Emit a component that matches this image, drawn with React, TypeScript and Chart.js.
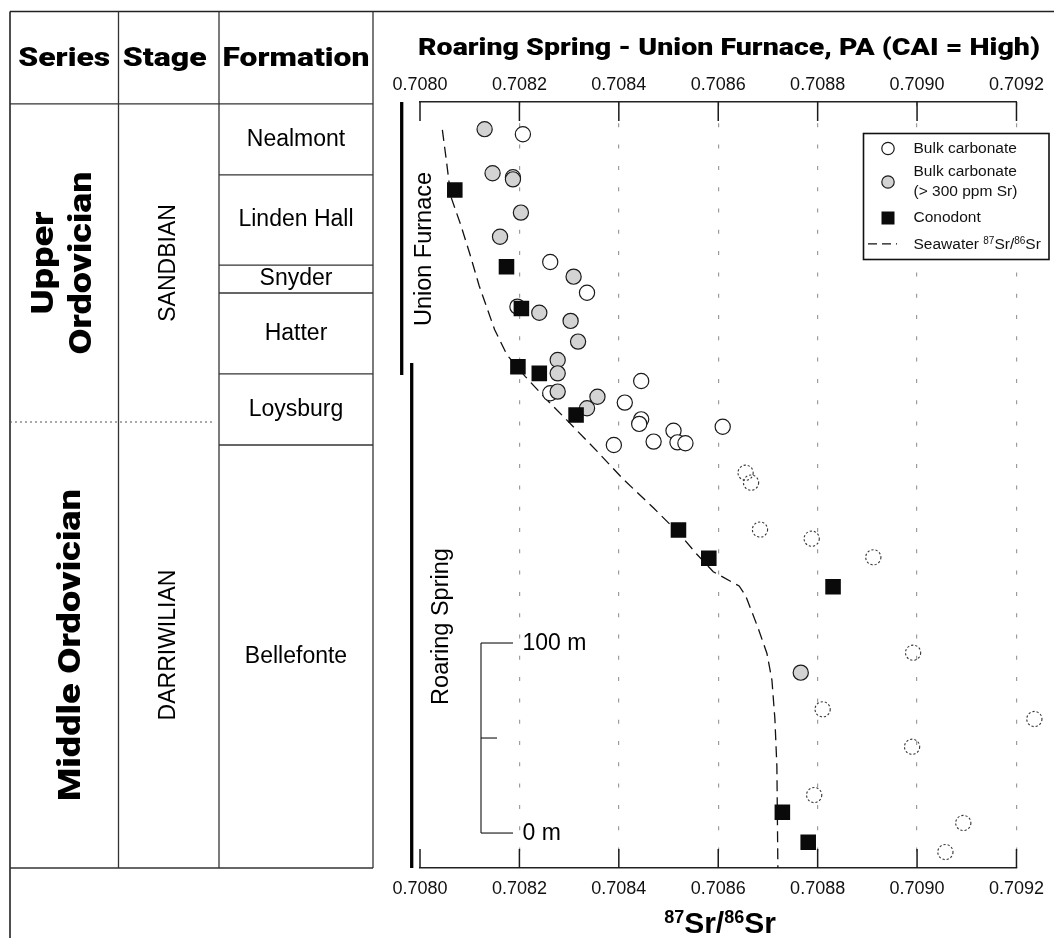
import React, { useEffect, useRef } from "react";
import { Chart, registerables } from "chart.js";

Chart.register(...registerables);

const W = 1054;
const H = 938;
const SANS = "'Liberation Sans', Arial, Helvetica, sans-serif";
const HEAVY = "Roboto, 'DejaVu Sans', 'Liberation Sans', sans-serif";

// ---------------- data ----------------
const chartTitle = "Roaring Spring - Union Furnace, PA (CAI = High)";
const xTickValues = [0.708, 0.7082, 0.7084, 0.7086, 0.7088, 0.709, 0.7092];
const xMin = 0.708;
const xMax = 0.7092;
// stratigraphic height (m) shown by the section
const yMin = -18.4;
const yMax = 384.7;

// Bulk carbonate (open circles)
const bulkSr = [
  0.708207, 0.708187, 0.708262, 0.708336, 0.708196, 0.708262, 0.708445, 0.708412,
  0.708445, 0.708441, 0.70839, 0.70847, 0.70851, 0.708518, 0.708534, 0.708609,
];
const bulkHeight = [
  367.7, 345.1, 300.5, 284.3, 277.0, 231.4, 237.9, 226.5, 217.7, 215.3, 204.2, 206.0,
  211.7, 205.6, 205.1, 213.8,
];

// Bulk carbonate (> 300 ppm Sr) (grey circles)
const highSrSr = [
  0.70813, 0.708146, 0.708187, 0.708203, 0.708161, 0.708309, 0.708303, 0.708318,
  0.70824, 0.708277, 0.708277, 0.708277, 0.708357, 0.708336, 0.708766,
];
const highSrHeight = [
  370.4, 347.2, 344.0, 326.5, 313.8, 292.8, 269.5, 258.6, 273.8, 248.9, 241.9, 232.3,
  229.6, 223.5, 84.4,
];

// Bulk carbonate drawn with dotted outline
const dottedSr = [
  0.708655, 0.708666, 0.708684, 0.708788, 0.708912, 0.708992, 0.70881, 0.709236,
  0.70899, 0.708793, 0.709093, 0.709057,
];
const dottedHeight = [189.6, 184.4, 159.7, 154.9, 145.1, 94.9, 65.1, 60.0, 45.4, 20.0, 5.3, -10.0];

// Conodont (black squares)
const conodontSr = [
  0.70807, 0.708174, 0.708204, 0.708197, 0.70824, 0.708314, 0.70852, 0.708581, 0.708831,
  0.708729, 0.708781,
];
const conodontHeight = [338.4, 298.0, 276.0, 245.4, 241.9, 220.0, 159.5, 144.6, 129.6, 10.9, -4.9];

// Seawater 87Sr/86Sr curve
const seawaterSr = [
  0.708045, 0.708053, 0.708062, 0.708082, 0.7081, 0.708119, 0.70815, 0.708175, 0.708212,
  0.708255, 0.708295, 0.708357, 0.708407, 0.70847, 0.70852, 0.708556, 0.70859, 0.708642,
  0.708655, 0.70868, 0.708698, 0.708708, 0.708714, 0.708718, 0.70872,
];
const seawaterHeight = [
  370, 354, 335, 320, 305, 288, 265, 251.6, 240.2, 228, 217.4, 200.7, 186.7, 171, 158,
  147, 137.5, 130, 125, 108, 94.5, 80.5, 60, 35, -18.4,
];

// Stratigraphic column
const seriesLines = [["Upper", "Ordovician"], ["Middle Ordovician"]];
const seriesTop = [383.7, 216.3];
const seriesBase = [216.3, -18.4];
const stageNames = ["SANDBIAN", "DARRIWILIAN"];
const formationNames = ["Nealmont", "Linden Hall", "Snyder", "Hatter", "Loysburg", "Bellefonte"];
const formationTop = [383.7, 346.3, 298.9, 284.2, 241.6, 204.2];
const formationBase = [346.3, 298.9, 284.2, 241.6, 204.2, -18.4];
const headerNames = ["Series", "Stage", "Formation"];

// Measured sections
const sectionNames = ["Union Furnace", "Roaring Spring"];
const sectionTop = [384.7, 247.4];
const sectionBase = [241.0, -18.4];

// Scale bar (m)
const scaleBarValues = [0, 50, 100];
const scaleBarLabels = ["0 m", "", "100 m"];

const legendLabels = ["Bulk carbonate", "Bulk carbonate\n(> 300 ppm Sr)", "Conodont", "Seawater"];
const DOTTED_LABEL = "Bulk carbonate (dotted)";

// ---------------- drawing helpers ----------------
function line(ctx: CanvasRenderingContext2D, x1: number, y1: number, x2: number, y2: number) {
  ctx.beginPath();
  ctx.moveTo(x1, y1);
  ctx.lineTo(x2, y2);
  ctx.stroke();
}

function vText(ctx: CanvasRenderingContext2D, text: string, x: number, y: number) {
  ctx.save();
  ctx.translate(x, y);
  ctx.rotate(-Math.PI / 2);
  ctx.fillText(text, 0, 0);
  ctx.restore();
}

// heavy text fitted horizontally to a target width
function fitText(
  ctx: CanvasRenderingContext2D,
  text: string,
  x: number,
  y: number,
  width: number,
  rotate = false
) {
  const w = ctx.measureText(text).width || 1;
  ctx.save();
  ctx.translate(x, y);
  if (rotate) ctx.rotate(-Math.PI / 2);
  ctx.scale(width / w, 1);
  ctx.fillText(text, 0, 0);
  ctx.restore();
}

type Part = { t: string; sup?: boolean };
function richText(
  ctx: CanvasRenderingContext2D,
  parts: Part[],
  x: number,
  y: number,
  bigFont: string,
  supFont: string,
  raise: number,
  align: "left" | "center"
) {
  ctx.save();
  ctx.textAlign = "left";
  ctx.textBaseline = "alphabetic";
  let total = 0;
  const widths = parts.map((p) => {
    ctx.font = p.sup ? supFont : bigFont;
    const w = ctx.measureText(p.t).width;
    total += w;
    return w;
  });
  let cx = align === "center" ? x - total / 2 : x;
  parts.forEach((p, i) => {
    ctx.font = p.sup ? supFont : bigFont;
    ctx.fillText(p.t, cx, p.sup ? y - raise : y);
    cx += widths[i];
  });
  ctx.restore();
}

const figurePlugin = {
  id: "figure",
  beforeDatasetDraw(chart: any, args: any) {
    const ds = chart.data.datasets[args.index];
    if (ds.label === DOTTED_LABEL) {
      chart.ctx.save();
      chart.ctx.setLineDash([2.2, 2]);
      chart._savedArea = chart.chartArea;
      chart.chartArea = { ...chart.chartArea, left: 0, top: 0, right: chart.width, bottom: chart.height };
    }
  },
  afterDatasetDraw(chart: any, args: any) {
    const ds = chart.data.datasets[args.index];
    if (ds.label === DOTTED_LABEL) {
      chart.chartArea = chart._savedArea;
      chart.ctx.restore();
    }
  },
  afterDraw(chart: any) {
    const ctx: CanvasRenderingContext2D = chart.ctx;
    const xs = chart.scales.x;
    const ys = chart.scales.y;
    const ca = chart.chartArea;
    const py = (v: number) => ys.getPixelForValue(v);
    ctx.save();

    // ---- inward tick marks on both axes ----
    ctx.strokeStyle = "#1a1a1a";
    ctx.lineWidth = 1.5;
    xs.ticks.forEach((t: any) => {
      const px = xs.getPixelForValue(t.value);
      line(ctx, px, ca.top, px, ca.top + 19);
      line(ctx, px, ca.bottom, px, ca.bottom - 19);
    });

    // ---- outer frame ----
    ctx.strokeStyle = "#222";
    ctx.lineWidth = 1.6;
    line(ctx, 10, 11.5, W, 11.5);
    line(ctx, 10, 11.5, 10, H);

    // ---- stratigraphic table ----
    const cols = [10, 118.5, 219, 373];
    const tTop = py(formationTop[0]);
    const tBot = py(formationBase[formationBase.length - 1]);
    ctx.lineWidth = 1.3;
    ctx.strokeStyle = "#333";
    line(ctx, cols[0], tTop, cols[3], tTop);
    line(ctx, cols[0], tBot, cols[3], tBot);
    line(ctx, cols[1], 11.5, cols[1], tBot);
    line(ctx, cols[2], 11.5, cols[2], tBot);
    line(ctx, cols[3], 11.5, cols[3], tBot);
    formationTop.slice(1).forEach((v) => line(ctx, cols[2], py(v), cols[3], py(v)));

    ctx.save();
    ctx.setLineDash([2, 3]);
    ctx.strokeStyle = "#555";
    ctx.lineWidth = 1;
    line(ctx, cols[0], py(seriesBase[0]), 213, py(seriesBase[0]));
    ctx.restore();

    ctx.fillStyle = "#000";
    ctx.textAlign = "center";
    ctx.textBaseline = "alphabetic";
    ctx.font = `900 26px ${HEAVY}`;
    const headerX = [64.2, 164.7, 296];
    const headerW = [92, 84, 147];
    headerNames.forEach((n, i) => fitText(ctx, n, headerX[i], 66, headerW[i]));

    ctx.font = `900 32px ${HEAVY}`;
    seriesLines.forEach((lines, i) => {
      const yc = (py(seriesTop[i]) + py(seriesBase[i])) / 2;
      const bx = lines.length === 2 ? [52.5, 90.5] : [80];
      const bw = lines.length === 2 ? [103, 183] : [312];
      lines.forEach((ln, j) => fitText(ctx, ln, bx[j], yc, bw[j], true));
    });

    ctx.font = `23px ${SANS}`;
    stageNames.forEach((n, i) => {
      const yc = (py(seriesTop[i]) + py(seriesBase[i])) / 2;
      vText(ctx, n, 175, yc);
    });

    ctx.textBaseline = "middle";
    formationNames.forEach((n, i) => {
      const yc = (py(formationTop[i]) + py(formationBase[i])) / 2;
      ctx.fillText(n, 296, yc);
    });

    // ---- measured section bars ----
    const barX = [401.7, 411.7];
    const labelBase = [431, 447.5];
    const labelY = [249, 626.5];
    ctx.strokeStyle = "#000";
    ctx.lineWidth = 3.3;
    sectionNames.forEach((n, i) => {
      line(ctx, barX[i], py(sectionTop[i]), barX[i], py(sectionBase[i]));
    });
    ctx.textBaseline = "alphabetic";
    ctx.font = `23.5px ${SANS}`;
    sectionNames.forEach((n, i) => vText(ctx, n, labelBase[i], labelY[i]));

    // ---- scale bar ----
    ctx.strokeStyle = "#111";
    ctx.lineWidth = 1.1;
    const sbX = 481;
    line(ctx, sbX, py(scaleBarValues[0]), sbX, py(scaleBarValues[2]));
    scaleBarValues.forEach((v, i) => {
      const len = scaleBarLabels[i] ? 32 : 16;
      line(ctx, sbX, py(v), sbX + len, py(v));
    });
    ctx.font = `23px ${SANS}`;
    ctx.textAlign = "left";
    ctx.textBaseline = "middle";
    scaleBarValues.forEach((v, i) => {
      if (scaleBarLabels[i]) ctx.fillText(scaleBarLabels[i], 522.5, py(v) + 1);
    });

    // ---- titles ----
    ctx.textAlign = "center";
    ctx.textBaseline = "alphabetic";
    ctx.font = `900 23.5px ${HEAVY}`;
    fitText(ctx, chartTitle, 729, 55, 622);
    richText(
      ctx,
      [{ t: "87", sup: true }, { t: "Sr/" }, { t: "86", sup: true }, { t: "Sr" }],
      720,
      933,
      `bold 30px ${SANS}`,
      `bold 18px ${SANS}`,
      10,
      "center"
    );

    // ---- legend ----
    const lx = 863.5, ly = 133.5, lw = 185.5, lh = 126;
    ctx.fillStyle = "#fff";
    ctx.fillRect(lx, ly, lw, lh);
    ctx.strokeStyle = "#111";
    ctx.lineWidth = 1.6;
    ctx.strokeRect(lx, ly, lw, lh);

    const symX = 888;
    const textX = 913.5;
    const dsets = chart.data.datasets;
    const open = dsets.find((d: any) => d.label === legendLabels[0]);
    const grey = dsets.find((d: any) => d.label === legendLabels[1]);
    const cono = dsets.find((d: any) => d.label === legendLabels[2]);
    const sea = dsets.find((d: any) => d.label.startsWith(legendLabels[3]));

    ctx.lineWidth = 1.2;
    ctx.beginPath();
    ctx.arc(symX, 148.5, 6.2, 0, Math.PI * 2);
    ctx.fillStyle = open.backgroundColor;
    ctx.fill();
    ctx.strokeStyle = open.borderColor;
    ctx.stroke();
    ctx.beginPath();
    ctx.arc(symX, 182, 6.2, 0, Math.PI * 2);
    ctx.fillStyle = grey.backgroundColor;
    ctx.fill();
    ctx.strokeStyle = grey.borderColor;
    ctx.stroke();
    ctx.fillStyle = cono.backgroundColor;
    ctx.fillRect(symX - 6.5, 218 - 6.5, 13, 13);
    ctx.save();
    ctx.strokeStyle = sea.borderColor;
    ctx.lineWidth = 1.3;
    ctx.setLineDash([9, 5]);
    line(ctx, 868, 243.8, 897, 243.8);
    ctx.restore();

    ctx.fillStyle = "#111";
    ctx.textAlign = "left";
    ctx.textBaseline = "middle";
    ctx.font = `15.5px ${SANS}`;
    ctx.fillText(legendLabels[0], textX, 148.5);
    const gl = legendLabels[1].split("\n");
    ctx.fillText(gl[0], textX, 172);
    ctx.fillText(gl[1], textX, 192);
    ctx.fillText(legendLabels[2], textX, 218);
    richText(
      ctx,
      [{ t: legendLabels[3] + " " }, { t: "87", sup: true }, { t: "Sr/" }, { t: "86", sup: true }, { t: "Sr" }],
      textX,
      249.3,
      `15.5px ${SANS}`,
      `10px ${SANS}`,
      5.5,
      "left"
    );

    ctx.restore();
  },
};

const pts = (xs: number[], ys: number[]) => xs.map((x, i) => ({ x, y: ys[i] }));
const setTicks = (scale: any) => {
  scale.ticks = xTickValues.map((value) => ({ value }));
};

export default function App() {
  const ref = useRef<HTMLCanvasElement>(null);

  useEffect(() => {
    const canvas = ref.current;
    if (!canvas) return;
    const tickFont = { family: SANS, size: 18 };
    const chart = new Chart(canvas, {
      type: "scatter",
      data: {
        datasets: [
          {
            label: legendLabels[2],
            data: pts(conodontSr, conodontHeight),
            pointStyle: "rect",
            pointRadius: 11,
            backgroundColor: "#0a0a0a",
            borderColor: "#0a0a0a",
            borderWidth: 0,
            order: 0,
          },
          {
            label: legendLabels[1],
            data: pts(highSrSr, highSrHeight),
            pointStyle: "circle",
            pointRadius: 7.6,
            backgroundColor: "#d3d3d3",
            borderColor: "#1a1a1a",
            borderWidth: 1.2,
            order: 1,
          },
          {
            label: legendLabels[0],
            data: pts(bulkSr, bulkHeight),
            pointStyle: "circle",
            pointRadius: 7.6,
            backgroundColor: "#ffffff",
            borderColor: "#1a1a1a",
            borderWidth: 1.2,
            order: 2,
          },
          {
            label: DOTTED_LABEL,
            data: pts(dottedSr, dottedHeight),
            pointStyle: "circle",
            pointRadius: 7.6,
            backgroundColor: "rgba(255,255,255,0)",
            borderColor: "#333",
            borderWidth: 1.1,
            clip: false,
            order: 3,
          },
          {
            label: "Seawater 87Sr/86Sr",
            data: pts(seawaterSr, seawaterHeight),
            showLine: true,
            pointRadius: 0,
            borderColor: "#111",
            borderWidth: 1.3,
            borderDash: [11, 6],
            tension: 0,
            fill: false,
            order: 4,
          } as any,
        ],
      },
      options: {
        responsive: false,
        maintainAspectRatio: false,
        animation: false,
        devicePixelRatio: 1,
        events: [],
        layout: { padding: { left: 420, right: 30, top: 62, bottom: 30 } },
        plugins: {
          legend: { display: false },
          tooltip: { enabled: false },
          title: { display: false },
        },
        scales: {
          x: {
            type: "linear",
            position: "bottom",
            min: xMin,
            max: xMax,
            afterBuildTicks: setTicks,
            afterFit: (s: any) => {
              s.height = 40;
            },
            ticks: {
              callback: (v: any) => Number(v).toFixed(4),
              font: tickFont,
              color: "#111",
              padding: 10,
              maxRotation: 0,
              autoSkip: false,
            },
            grid: {
              display: true,
              drawTicks: false,
              lineWidth: 1.2,
              color: (c: any) =>
                c.tick && Math.abs(c.tick.value - xMin) < 1e-10 ? "rgba(0,0,0,0)" : "#9c9c9c",
            },
            border: { display: true, color: "#222", width: 1.5, dash: [4, 17.3] },
          },
          x2: {
            type: "linear",
            position: "top",
            min: xMin,
            max: xMax,
            afterBuildTicks: setTicks,
            afterFit: (s: any) => {
              s.height = 40;
            },
            ticks: {
              callback: (v: any) => Number(v).toFixed(4),
              font: tickFont,
              color: "#111",
              padding: 6,
              maxRotation: 0,
              autoSkip: false,
            },
            grid: { display: false, drawTicks: false },
            border: { display: true, color: "#222", width: 1.5 },
          },
          y: { type: "linear", display: false, min: yMin, max: yMax },
        },
      } as any,
      plugins: [figurePlugin as any],
    });
    return () => chart.destroy();
  }, []);

  return (
    <div style={{ position: "absolute", left: 0, top: 0, width: W, height: H, background: "#fff" }}>
      <canvas ref={ref} width={W} height={H} style={{ display: "block", width: W, height: H }} />
    </div>
  );
}
